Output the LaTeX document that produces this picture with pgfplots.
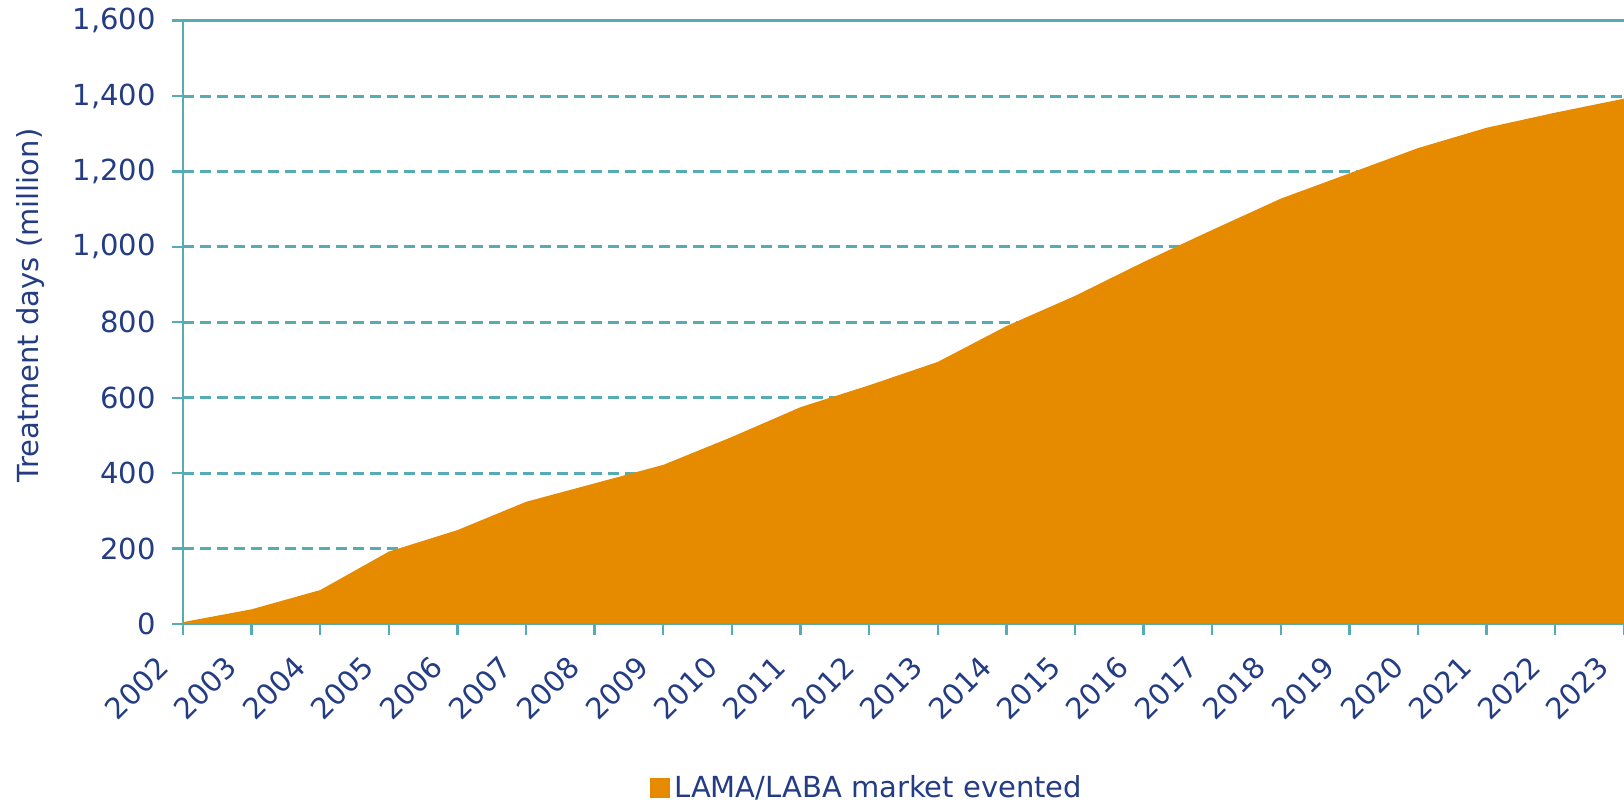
\documentclass[border=0pt]{standalone}
\usepackage{pgfplots}
\pgfplotsset{compat=1.18}
\usepackage{fontspec}
\setmainfont{DejaVu Sans}
\definecolor{navyc}{HTML}{233C83}
\definecolor{tealc}{HTML}{55ACB3}
\definecolor{orangec}{HTML}{E68A00}
\begin{document}
\begin{tikzpicture}
\path[use as bounding box] (-91.5pt,-89.5pt) rectangle (720.5pt,312pt);
\begin{axis}[
  at={(0pt,0pt)}, anchor=south west,
  scale only axis, width=720.5pt, height=301.7pt,
  xmin=2002, xmax=2023, ymin=0, ymax=1600,
  axis lines=left,
  axis line style={-, tealc, line width=1.4pt},
  tick style={tealc, line width=1.2pt},
  tick align=outside,
  major tick length=5.5pt,
  xtick={2002,...,2023},
  ytick={0,200,...,1600},
  ymajorgrids,
  grid style={tealc, line width=1.5pt, dash pattern=on 5.5pt off 3pt},
  font=\fontsize{14.5}{17}\selectfont,
  tick label style={text=navyc},
  /pgf/number format/assume math mode=true,
  yticklabel style={/pgf/number format/1000 sep={,}, inner sep=0pt, anchor=east, xshift=-8pt},
  xticklabel style={/pgf/number format/1000 sep={}, inner sep=0pt, anchor=east, xshift=-10pt, yshift=-13.5pt, rotate=45},
  ylabel={Treatment days (million)},
  ylabel style={text=navyc, at={(axis description cs:-0.1055,0.528)}, anchor=center},
  legend style={draw=none, fill=none, at={(axis description cs:0.4755,-0.272)}, anchor=center, text=navyc, font=\fontsize{14.5}{17}\selectfont, inner sep=0pt},
  legend cell align=left,
  legend image code/.code={\fill[#1] (0pt,-5pt) rectangle (10pt,5pt);},
  clip=false,
]
\addplot[fill=orangec, draw=none] coordinates {
(2002,5) (2003,39) (2004,90) (2005,192) (2006,249) (2007,324) (2008,373) (2009,422)
(2010,496) (2011,575) (2012,633) (2013,695) (2014,790) (2015,870) (2016,960)
(2017,1045) (2018,1128) (2019,1195) (2020,1262) (2021,1316) (2022,1356) (2023,1393)
} \closedcycle;
\addlegendentry{LAMA/LABA market evented}
\draw[tealc, line width=1.4pt] (rel axis cs:0,0) -- (rel axis cs:1,0);
\draw[tealc, line width=1.4pt] (rel axis cs:0,1) -- (rel axis cs:1,1);
\end{axis}
\end{tikzpicture}
\end{document}
